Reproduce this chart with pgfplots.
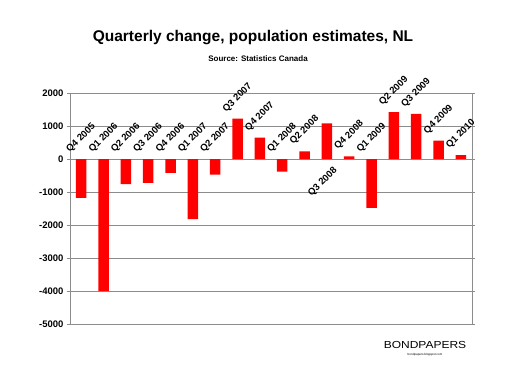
\documentclass[border=0pt]{standalone}
\usepackage{fontspec}
\setmainfont{Liberation Sans}[BoldFont={Liberation Sans Bold}]
\usepackage{pgfplots}
\pgfplotsset{compat=1.18}
\usepackage{pgfplotstable}
\definecolor{gridgray}{RGB}{140,140,140}
\definecolor{barred}{RGB}{255,0,0}

\pgfplotstableread[col sep=comma]{
x,y,ly,lab
0,-1180,0,Q4 2005
1,-4000,0,Q1 2006
2,-760,0,Q2 2006
3,-720,0,Q3 2006
4,-420,0,Q4 2006
5,-1820,0,Q1 2007
6,-470,0,Q2 2007
7,1220,1220,Q3 2007
8,650,650,Q4 2007
9,-380,0,Q1 2008
10,230,230,Q2 2008
12,80,80,Q4 2008
13,-1480,0,Q1 2009
14,1420,1420,Q2 2009
15,1370,1370,Q3 2009
16,560,560,Q4 2009
17,120,120,Q1 2010
}\labeltable

\pgfplotstableread[col sep=comma]{
x,y
0,-1180
1,-4000
2,-760
3,-720
4,-420
5,-1820
6,-470
7,1220
8,650
9,-380
10,230
11,1080
12,80
13,-1480
14,1420
15,1370
16,560
17,120
}\datatable

\begin{document}
\begin{tikzpicture}[x=1pt,y=1pt]
\path[use as bounding box] (0,0) rectangle (505,381);
\begin{axis}[
  at={(70pt,57pt)}, anchor=south west,
  scale only axis, width=402pt, height=231pt,
  xmin=-0.5, xmax=17.5, ymin=-5000, ymax=2000,
  xtick=\empty,
  ytick={-5000,-4000,-3000,-2000,-1000,0,1000,2000},
  ymajorgrids, grid style={gridgray, line width=0.8pt},
  axis line style={gridgray, line width=0.9pt},
  ytick style={gridgray, line width=0.8pt},
  tick align=outside, major tick length=3pt,
  /pgf/number format/assume math mode=true,
  /pgf/number format/1000 sep={},
  yticklabel style={font=\bfseries\fontsize{9.5}{11}\selectfont},
  clip=false,
]
\addplot[ybar, bar width=10.5pt, fill=barred, draw=none, bar shift=0pt]
  table[x=x, y=y] {\datatable};
\addplot[scatter, only marks, mark=none, point meta=explicit symbolic,
  scatter/@pre marker code/.code={%
    \node[font=\bfseries\fontsize{9.5}{11}\selectfont, inner sep=0pt,
      anchor=center, rotate=45] at (0pt,21pt) {\pgfplotspointmeta};},
  scatter/@post marker code/.code={}]
  table[x=x, y=ly, meta=lab] {\labeltable};
\addplot[scatter, only marks, mark=none, point meta=explicit symbolic,
  scatter/@pre marker code/.code={%
    \node[font=\bfseries\fontsize{9.5}{11}\selectfont, inner sep=0pt,
      anchor=center, rotate=45] at (-4pt,-23pt) {\pgfplotspointmeta};},
  scatter/@post marker code/.code={}]
  coordinates {(11,0) [Q3 2008]};
\end{axis}
\node[font=\bfseries\fontsize{15.5}{18}\selectfont] at (253,343) {Quarterly change, population estimates, NL};
\node[font=\bfseries\fontsize{8}{10}\selectfont] at (258,322) {Source: Statistics Canada};
\node[font=\fontsize{12}{14}\selectfont] at (425,36) {\scalebox{1}[0.85]{BONDPAPERS}};
\node[font=\fontsize{3}{4}\selectfont] at (425,26) {bondpapers.blogspot.com};
\end{tikzpicture}
\end{document}
